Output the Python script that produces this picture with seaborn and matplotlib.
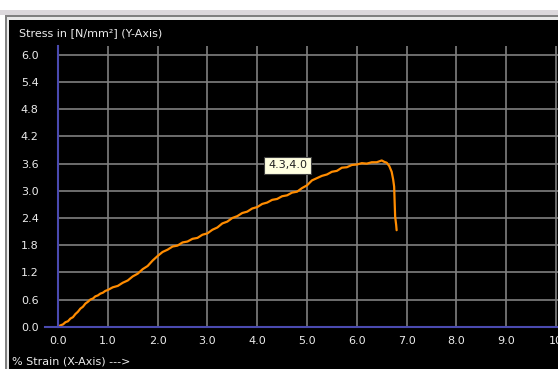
import matplotlib
matplotlib.use("Agg")
import matplotlib.pyplot as plt
from matplotlib.patches import Rectangle
import seaborn as sns
import pandas as pd

# ---- data ----
strain = [0.00, 0.05, 0.10, 0.15, 0.20, 0.25, 0.30, 0.35, 0.40, 0.45, 0.50, 0.55, 0.60, 0.65,
          0.70, 0.75, 0.80, 0.85, 0.90, 0.95, 1.00, 1.10, 1.20, 1.30, 1.40, 1.50, 1.60, 1.70,
          1.80, 1.90, 2.00, 2.10, 2.20, 2.30, 2.40, 2.50, 2.60, 2.70, 2.80, 2.90, 3.00, 3.10,
          3.20, 3.30, 3.40, 3.50, 3.60, 3.70, 3.80, 3.90, 4.00, 4.10, 4.20, 4.30, 4.40, 4.50,
          4.60, 4.70, 4.80, 4.90, 5.00, 5.10, 5.20, 5.30, 5.40, 5.50, 5.60, 5.70, 5.80, 5.90,
          6.00, 6.10, 6.20, 6.30, 6.40, 6.50, 6.55, 6.60, 6.65, 6.70, 6.73, 6.75, 6.76, 6.77,
          6.79, 6.80]
stress = [0.00, 0.03, 0.05, 0.10, 0.12, 0.18, 0.21, 0.28, 0.33, 0.40, 0.44, 0.51, 0.55, 0.60,
          0.62, 0.67, 0.69, 0.73, 0.75, 0.79, 0.81, 0.87, 0.90, 0.97, 1.02, 1.11, 1.17, 1.27,
          1.34, 1.46, 1.56, 1.65, 1.70, 1.77, 1.79, 1.86, 1.88, 1.94, 1.96, 2.03, 2.06, 2.14,
          2.19, 2.28, 2.32, 2.40, 2.44, 2.51, 2.54, 2.61, 2.64, 2.71, 2.74, 2.80, 2.82, 2.88,
          2.90, 2.96, 2.98, 3.06, 3.12, 3.23, 3.28, 3.33, 3.36, 3.42, 3.44, 3.51, 3.52, 3.57,
          3.58, 3.61, 3.60, 3.63, 3.63, 3.67, 3.64, 3.62, 3.55, 3.42, 3.25, 3.09, 2.75, 2.43,
          2.25, 2.13]

x_ticks = [0, 1, 2, 3, 4, 5, 6, 7, 8, 9, 10]
x_labels = ["0.0", "1.0", "2.0", "3.0", "4.0", "5.0", "6.0", "7.0", "8.0", "9.0", "10"]
y_ticks = [0.0, 0.6, 1.2, 1.8, 2.4, 3.0, 3.6, 4.2, 4.8, 5.4, 6.0]
y_labels = ["0.0", "0.6", "1.2", "1.8", "2.4", "3.0", "3.6", "4.2", "4.8", "5.4", "6.0"]
y_title = "Stress in [N/mm²] (Y-Axis)"
x_title = "% Strain (X-Axis) --->"
annot_text = "4.3,4.0"
annot_pos = (4.22, 3.56)

df = pd.DataFrame({"strain": strain, "stress": stress})

sns.set_style("dark")
plt.rcParams["font.family"] = ["DejaVu Sans"]

W, H = 558, 369
fig = plt.figure(figsize=(W / 100, H / 100), dpi=100)
fig.patch.set_facecolor("white")

# window frame (drawn below the axes)
frame = [
    ((0, 1 - 15 / H), 1, 5 / H, "#dcd8dc"),
    ((5 / W, 0), 1, 1 - 15 / H, "#808080"),
    ((6.5 / W, 0), 1, 1 - 17 / H, "#e8e8e8"),
    ((9 / W, 0), 1, 1 - 20 / H, "black"),
]
for (xy, w, h, c) in frame:
    fig.patches.append(Rectangle(xy, w, h, transform=fig.transFigure,
                                 facecolor=c, edgecolor="none", zorder=-10))

px_x, px_y = 49.8, 45.3
x0, y0 = 58, 326.7
xmax, ymax = 10.25, 6.2
ax = fig.add_axes([x0 / W, (H - y0) / H, xmax * px_x / W, ymax * px_y / H])
ax.set_zorder(1)
ax.set_facecolor("black")

sns.lineplot(data=df, x="strain", y="stress", ax=ax, color="#ff8c00", linewidth=1.6,
             estimator=None, sort=False)

ax.set_xlim(0, xmax)
ax.set_ylim(0, ymax)
ax.set_xticks(x_ticks)
ax.set_xticklabels(x_labels)
ax.set_yticks(y_ticks)
ax.set_yticklabels(y_labels)
ax.set_xlabel("")
ax.set_ylabel("")
ax.grid(True, color="#808080", linewidth=1.2)
ax.set_axisbelow(True)
ax.tick_params(axis="both", length=0, labelcolor="#ececec", labelsize=8)
ax.tick_params(axis="y", pad=14)
ax.tick_params(axis="x", pad=7)

for s in ["top", "right"]:
    ax.spines[s].set_visible(False)
for s in ["left", "bottom"]:
    ax.spines[s].set_visible(True)
    ax.spines[s].set_color("#4a4ab0")
    ax.spines[s].set_linewidth(1.5)
    ax.spines[s].set_zorder(3)
ax.spines["bottom"].set_bounds(-0.26, xmax)

ax.text(annot_pos[0], annot_pos[1], annot_text, fontsize=8, color="#202020",
        va="center", ha="left",
        bbox=dict(boxstyle="square,pad=0.35", facecolor="#ffffe1", edgecolor="#404040",
                  linewidth=0.8), zorder=5)

fig.text(19 / W, 1 - 33 / H, y_title, color="#ececec", fontsize=8, va="center", ha="left",
         zorder=5)
fig.text(12 / W, 1 - 362 / H, x_title, color="#ececec", fontsize=8, va="center", ha="left",
         zorder=5)

fig.savefig("out.png", dpi=100, facecolor=fig.get_facecolor())
